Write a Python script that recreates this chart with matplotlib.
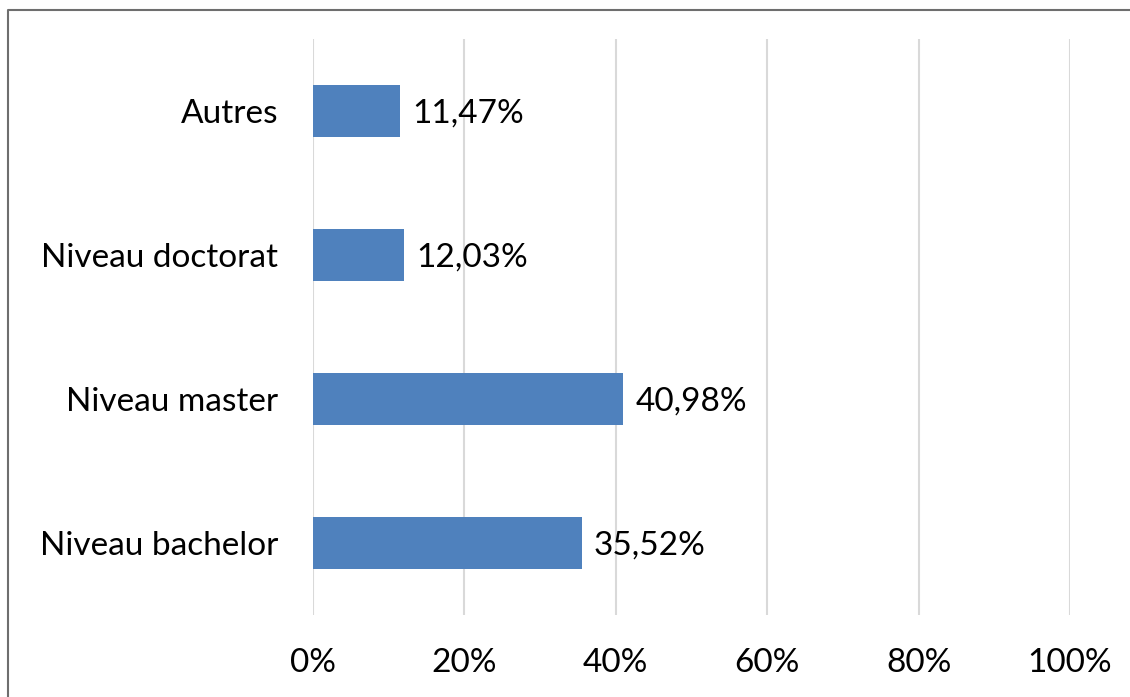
import matplotlib.pyplot as plt
from matplotlib.lines import Line2D

categories = ['Niveau bachelor', 'Niveau master', 'Niveau doctorat', 'Autres']
values = [35.52, 40.98, 12.03, 11.47]
xticks = [0, 20, 40, 60, 80, 100]

plt.rcParams['font.family'] = ['Lato', 'DejaVu Sans']

fig = plt.figure(figsize=(11.3, 6.97), dpi=100)
ax = fig.add_axes([0.277, 0.1176, 0.670, 0.8264])

ypos = list(range(len(categories)))
ax.barh(ypos, values, height=0.36, color='#4F81BD', zorder=3)

for y, v in zip(ypos, values):
    ax.text(v + 1.6, y - 0.02, ('%.2f%%' % v).replace('.', ','), va='center', ha='left',
            fontsize=24, color='black')

ax.set_xlim(0, 100)
ax.set_ylim(-0.5, 3.5)
ax.set_xticks(xticks)
ax.set_xticklabels(['%d%%' % t for t in xticks], fontsize=24)
ax.set_yticks(ypos)
ax.set_yticklabels(categories, fontsize=24)
ax.tick_params(axis='both', length=0)
ax.tick_params(axis='x', pad=24)
ax.tick_params(axis='y', pad=25)
ax.grid(axis='x', color='#D9D9D9', linewidth=1.5, zorder=0)
for s in ax.spines.values():
    s.set_visible(False)

# cadre gris (gauche et haut seulement)
fig.add_artist(Line2D([0.0075, 0.0075, 1.0], [0.0, 0.986, 0.986],
                      transform=fig.transFigure, color='#6E6E6E', linewidth=1.5))

fig.savefig('out.png', dpi=100)
